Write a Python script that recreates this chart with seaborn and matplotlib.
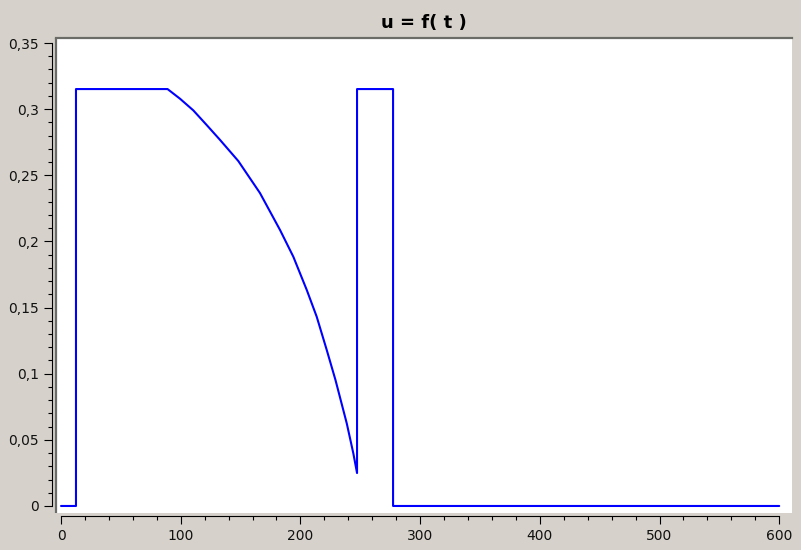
import numpy as np
import pandas as pd
import matplotlib
matplotlib.use('Agg')
import matplotlib.pyplot as plt
from matplotlib.ticker import FuncFormatter
import seaborn as sns

# values
t = [0, 12.5, 12.5, 89.0, 99.4, 110.5, 121.7, 132.8, 148.1, 166.2, 183.0, 194.1,
     205.3, 213.6, 222.0, 229.3, 238.7, 244.2, 247.3, 247.3, 277.4, 277.4, 600]
u = [0, 0, 0.3152, 0.3152, 0.3079, 0.2991, 0.2880, 0.2768, 0.2608, 0.2366, 0.2086, 0.1884,
     0.1633, 0.1431, 0.1179, 0.0952, 0.0625, 0.0398, 0.0249, 0.3152, 0.3152, 0, 0]
mydata = pd.DataFrame({'t': t, 'u': u})

bg = '#d6d2cb'
sns.set_style('white')
plt.rcParams['font.family'] = ['DejaVu Sans']

fig = plt.figure(figsize=(8.01, 5.50), dpi=100, facecolor=bg)
ax = fig.add_axes([0.0699, 0.0673, 0.9189, 0.8636])
ax.set_facecolor('white')

sns.lineplot(data=mydata, x='t', y='u', estimator=None, sort=False,
             color='#0000ff', linewidth=1.5, ax=ax)

ax.set_xlim(-4.2, 610.7)
ax.set_ylim(-0.0053, 0.3538)
ax.set_xlabel('')
ax.set_ylabel('')

# scilab style axes: offset black axis lines, grey frame on top/left
ax.spines['right'].set_visible(False)
ax.spines['top'].set_color('#6b6b68')
ax.spines['top'].set_linewidth(1.6)
ax.spines['left'].set_position(('outward', 2.9))
ax.spines['left'].set_bounds(0, 0.35)
ax.spines['left'].set_color('black')
ax.spines['left'].set_linewidth(0.8)
ax.spines['bottom'].set_position(('outward', 2.2))
ax.spines['bottom'].set_bounds(0, 600)
ax.spines['bottom'].set_color('black')
ax.spines['bottom'].set_linewidth(0.8)
ax.plot([0, 0], [0.0, 1.0], transform=ax.transAxes, color='#6b6b68',
        linewidth=1.6, clip_on=False, solid_capstyle='butt')

ax.set_xticks(np.arange(0, 601, 100))
ax.set_xticks(np.arange(0, 601, 20), minor=True)
ax.set_yticks(np.arange(0, 0.351, 0.05))
ax.set_yticks(np.arange(0, 0.351, 0.01), minor=True)
ax.yaxis.set_major_formatter(FuncFormatter(lambda v, p: f'{round(v, 3):g}'.replace('.', ',')))
ax.tick_params(which='major', direction='out', length=5.8, width=0.8, color='black',
               labelsize=10, labelcolor='#111111', pad=3.5, left=True, bottom=True)
ax.tick_params(which='minor', direction='out', length=2.9, width=0.8, color='black',
               left=True, bottom=True)

ax.set_title('u = f( t )', fontsize=13, fontweight='bold', pad=7, color='black')

fig.savefig('out.png', dpi=100, facecolor=bg)
